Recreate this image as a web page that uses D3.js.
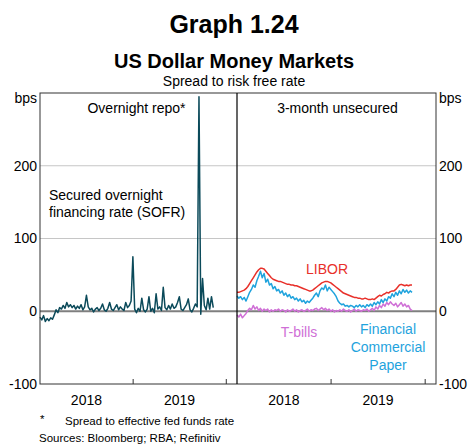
<!DOCTYPE html>
<html><head><meta charset="utf-8">
<script src="https://cdn.jsdelivr.net/npm/d3@7"></script>
<style>
body{margin:0;background:#fff;}
text{font-family:"Liberation Sans",Arial,sans-serif;}
</style></head>
<body><svg id="c" width="468" height="446"></svg>
<script>
// ---- data ----
const startDate = "2018-01-01";           // first weekly observation
const yearLabels = ["2018", "2019"];
const yTicks = [-100, 0, 100, 200];

// Overnight repo: SOFR spread to EFFR (bps), weekly
const sofr = [-8,-12,-6,-14,-10,-13,-9,-11,-5,
  2,-2,5,3, 8,4,12,6,9, 5,8,3,7,4,9,2,6, 22,
  6,2,4,-1,3,5,1,4, 10, 2,0,4, 12, 3,1,5, 9, 2,6,3,1, 12, 5,8,14, 75,
  3,-2,4,0, 18, 2,-1,3, 20, 0,4,-2, 24, 3,6,1, 33, 5,2,8,3, 10, 4,6,12, 20,
  3,1,5, 9, 17, 2,-1,4, 10, 6, 295, -4, 45, 8,2, 18, 3, 20, 5];

// 3-month unsecured spreads (bps), weekly
const libor = [26,26,27,28,29, 31,34,38,42, 46,50,54,57, 59,59,58,
  55,52,49,46,44, 43,42,41,41,40, 39,38,37,37,36, 36,35,35,34,33,
  32,31,30,29, 28,28,29,31, 33,35,37,39, 40,41,41,40,39,
  37,35,33,31, 29,27,25,24, 23,22,21,20, 19,19,18,18, 17,17,18,17,16,
  16,17,16,18, 20,22,21,23, 24,26,25,27,28, 28,30,33,36, 37,36,35,36, 35,36,36];
const cp = [21,18,20,16,19, 14,20,26,30, 36,33,42,48, 55,46,52,
  40,44,36,38,31, 34,28,30,25,28, 22,25,20,23,18, 20,16,18,14,17,
  13,15,11,14, 12,15,18,22, 25,20,28,32, 30,36,28,33,30,
  27,24,20,14, 11,9,10,7, 8,6,8,7, 5,8,6,9, 6,8,5,9,7,
  10,7,12,9, 13,10,16,12, 17,14,20,18,24, 20,26,22,28, 24,30,26,29, 25,28,26];
const tbills = [-5,-8,-4,-9,-6, -3,1,4,2, 8,3,6,1, 4,0,3,
  1,3,-1,2,0, 2,1,3,0,2, 1,-1,2,0,1, 3,0,2,-1,1,
  2,0,1,3, 0,2,1,3, 4,1,3,5, 2,4,1,3,0,
  2,-1,1,0, 2,0,3,1, 0,2,-1,1, 3,0,2,1, 0,2,1,3,0,
  2,4,1,6, 3,8,5,10, 7,12,9,13,10, 8,11,6,9, 12,7,10,6, 8,3,1];

// ---- drawing ----
const svg = d3.select("#c");
const parse = d3.timeParse("%Y-%m-%d");
const t0 = parse(startDate);
const dates = n => d3.range(n).map(i => d3.timeDay.offset(t0, 7*i));
const dom = [parse("2018-01-01"), parse("2020-02-12")];
const yTop = 93, yBot = 384, L = 40, M = 237, R = 436;
const y = d3.scaleLinear().domain([-100,300]).range([yBot, yTop]);
const xL = d3.scaleTime().domain(dom).range([L, M]);
const xR = d3.scaleTime().domain(dom).range([M, R]);

// titles
svg.append("text").attr("x",234).attr("y",33).attr("text-anchor","middle")
  .attr("font-size",25).attr("font-weight","bold").text("Graph 1.24");
svg.append("text").attr("x",234).attr("y",68).attr("text-anchor","middle")
  .attr("font-size",20).attr("font-weight","bold").text("US Dollar Money Markets");
svg.append("text").attr("x",234).attr("y",86).attr("text-anchor","middle")
  .attr("font-size",14).text("Spread to risk free rate");

// gridlines
svg.append("g").selectAll("line").data([100,200]).join("line")
  .attr("x1",L).attr("x2",R).attr("y1",d=>y(d)).attr("y2",d=>y(d))
  .attr("stroke","#c6c6c6").attr("stroke-width",1);

// y tick labels both sides
const yl = svg.append("g").attr("font-size",14);
yl.selectAll("text.l").data(yTicks).join("text").attr("class","l")
  .attr("x",L-3).attr("y",d=>y(d)).attr("dy","0.35em").attr("text-anchor","end").text(d=>d);
yl.selectAll("text.r").data(yTicks).join("text").attr("class","r")
  .attr("x",R+3).attr("y",d=>y(d)).attr("dy","0.35em").attr("text-anchor","start").text(d=>d);
svg.append("text").attr("x",L-3).attr("y",103).attr("text-anchor","end").attr("font-size",14).text("bps");
svg.append("text").attr("x",R+3).attr("y",103).attr("text-anchor","start").attr("font-size",14).text("bps");

// x ticks & labels
[xL, xR].forEach(x => {
  const ticks = [parse("2019-01-01"), parse("2020-01-01")];
  svg.append("g").selectAll("line").data(ticks).join("line")
    .attr("x1",d=>x(d)).attr("x2",d=>x(d)).attr("y1",yBot).attr("y2",yBot-5)
    .attr("stroke","#333").attr("stroke-width",1);
  svg.append("g").selectAll("text").data(yearLabels).join("text")
    .attr("x",d=>x(d3.timeDay.offset(parse(d+"-01-01"),182))).attr("y",405)
    .attr("text-anchor","middle").attr("font-size",14).text(d=>d);
});

// series
const line = (x) => d3.line().x(d=>x(d[0])).y(d=>y(d[1]));
const draw = (x, vals, color, w) => {
  const ds = dates(vals.length);
  svg.append("path").datum(vals.map((v,i)=>[ds[i],v]))
    .attr("d", line(x)).attr("fill","none").attr("stroke",color)
    .attr("stroke-width",w).attr("stroke-linejoin","round");
};
// zero line
svg.append("line").attr("x1",L).attr("x2",R).attr("y1",y(0)).attr("y2",y(0))
  .attr("stroke","#7f7f7f").attr("stroke-width",2);
draw(xL, sofr, "#0b4a5a", 1.5);
draw(xR, tbills, "#cf6fd6", 1.5);
draw(xR, libor, "#e8302a", 1.5);
draw(xR, cp, "#1fa3dd", 1.5);

// frame
svg.append("rect").attr("x",L).attr("y",yTop).attr("width",R-L).attr("height",yBot-yTop)
  .attr("fill","none").attr("stroke","#333").attr("stroke-width",1);
svg.append("line").attr("x1",M).attr("x2",M).attr("y1",yTop).attr("y2",yBot)
  .attr("stroke","#000").attr("stroke-width",1.2);

// panel labels
svg.append("text").attr("x",(L+M)/2-2).attr("y",113).attr("text-anchor","middle")
  .attr("font-size",14).text("Overnight repo*");
svg.append("text").attr("x",(M+R)/2+1).attr("y",113).attr("text-anchor","middle")
  .attr("font-size",14).text("3-month unsecured");
const sl = svg.append("text").attr("font-size",14).attr("fill","#000");
sl.append("tspan").attr("x",49).attr("y",200).text("Secured overnight");
sl.append("tspan").attr("x",49).attr("y",217).text("financing rate (SOFR)");
svg.append("text").attr("x",327).attr("y",274).attr("text-anchor","middle")
  .attr("font-size",14).attr("fill","#e8302a").text("LIBOR");
svg.append("text").attr("x",299).attr("y",337).attr("text-anchor","middle")
  .attr("font-size",14).attr("fill","#cf6fd6").text("T-bills");
const fl = svg.append("text").attr("font-size",14).attr("fill","#1fa3dd").attr("text-anchor","middle");
["Financial","Commercial","Paper"].forEach((s,i)=>
  fl.append("tspan").attr("x",388).attr("y",334+i*18).text(s));

// footnotes
svg.append("text").attr("x",40).attr("y",423).attr("font-size",11.5).text("*");
svg.append("text").attr("x",65).attr("y",425).attr("font-size",11.5).text("Spread to effective fed funds rate");
svg.append("text").attr("x",39).attr("y",442).attr("font-size",11.5).text("Sources: Bloomberg; RBA; Refinitiv");
</script></body></html>
